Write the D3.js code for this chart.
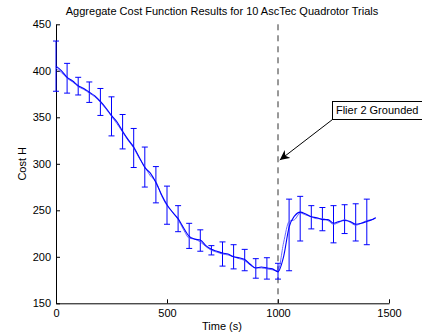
<!DOCTYPE html>
<html><head><meta charset="utf-8">
<script src="https://cdn.jsdelivr.net/npm/d3@7"></script>
<style>
body{margin:0;background:#fff;}
svg{display:block;font-family:"Liberation Sans",Arial,Helvetica,sans-serif;}
</style></head>
<body>
<script>
const title = "Aggregate Cost Function Results for 10 AscTec Quadrotor Trials";
const xLabel = "Time (s)";
const yLabel = "Cost H";
const xTicks = [0, 500, 1000, 1500];
const yTicks = [150, 200, 250, 300, 350, 400, 450];

const lineT = [0,25,50,75,100,125,150,175,200,225,250,275,300,325,350,375,400,425,450,475,500,525,550,575,600,625,650,675,700,725,750,775,800,825,850,875,900,925,950,975,1000,1025,1050,1075,1100,1125,1150,1175,1200,1225,1250,1275,1300,1325,1350,1375,1400,1425,1440];
const meanA = [405,400,393,389,384,381,377,373,367,360,352,345,335,326,318,307,296,290,280,267,256,248,241,231,222,219,218,212,208,206,204,203,200,199,197,192,188,189,188,187,184,200,232,244,248,246,243,242,240,240,236,238,239,238,235,236,238,240,242];
const meanB = [403,398,392,388,383,380,376,372,366,359,351,343,334,325,317,306,297,287,281,266,255,248,240,229,220,219,216,211,207,205,203,202,200,198,196,191,188,188,187,186,185,215,238,240,247,245,243,241,241,239,235,237,240,237,234,236,239,240,242];

const errT  = [0,50,100,150,200,250,300,350,400,450,500,550,600,650,700,750,800,850,900,950,1000,1050,1100,1150,1200,1250,1300,1350,1400];
const errLo = [378,376,374,366,352,330,316,296,275,258,235,227,209,206,202,190,187,185,177,176,176,185,217,230,228,215,225,217,213];
const errHi = [432,408,393,388,381,372,353,338,318,297,276,255,236,229,212,216,213,208,198,199,193,262,265,255,253,255,256,257,262];

const eventT = 1000;
const noteText = "Flier 2 Grounded";
const noteAt = [1243, 368];   // box top-left (data units)
const arrowTip = [1008, 304];

const W = 422, H = 335;
const svg = d3.select("body").append("svg").attr("width", W).attr("height", H);
const x = d3.scaleLinear().domain([0,1500]).range([56, 389]);
const y = d3.scaleLinear().domain([150,450]).range([303.3, 24.3]);

svg.append("text").attr("x", 222).attr("y", 15).attr("text-anchor","middle")
  .attr("font-size", 11).text(title);

const ax = svg.append("g").attr("transform", `translate(0,${y(150)})`)
  .call(d3.axisBottom(x).tickValues(xTicks).tickFormat(d3.format("d")).tickSizeInner(-4).tickSizeOuter(0).tickPadding(6));
const ay = svg.append("g").attr("transform", `translate(${x(0)},0)`)
  .call(d3.axisLeft(y).tickValues(yTicks).tickFormat(d3.format("d")).tickSizeInner(-4).tickSizeOuter(0).tickPadding(5));
[ax, ay].forEach(g => {
  g.selectAll("text").attr("font-size", 11).attr("fill","#000").attr("font-family","Liberation Sans, Arial, sans-serif");
  g.selectAll("line,path").attr("stroke","#000");
});

svg.append("text").attr("x", 222).attr("y", 330).attr("text-anchor","middle").attr("font-size",11).text(xLabel);
svg.append("text").attr("transform", `translate(26,${y(300)}) rotate(-90)`).attr("text-anchor","middle").attr("font-size",11).text(yLabel);

svg.append("line").attr("x1", x(eventT)).attr("x2", x(eventT)).attr("y1", y(450)).attr("y2", y(150))
  .attr("stroke","#333").attr("stroke-width",1).attr("stroke-dasharray","6,5");

const eg = svg.append("g").attr("stroke","#0000ff").attr("stroke-width",1).attr("fill","none");
errT.forEach((t,i) => {
  const cx = x(t), y1 = y(errLo[i]), y2 = y(errHi[i]);
  eg.append("line").attr("x1",cx).attr("x2",cx).attr("y1",y1).attr("y2",y2);
  eg.append("line").attr("x1",cx-3).attr("x2",cx+3).attr("y1",y1).attr("y2",y1);
  eg.append("line").attr("x1",cx-3).attr("x2",cx+3).attr("y1",y2).attr("y2",y2);
});

const lineGen = vals => d3.line().x((d,i)=>x(lineT[i])).y(d=>y(d)).curve(d3.curveMonotoneX)(vals);
svg.append("path").attr("d", lineGen(meanB)).attr("fill","none").attr("stroke","#5555ff").attr("stroke-width",0.9);
svg.append("path").attr("d", lineGen(meanA)).attr("fill","none").attr("stroke","#0000ff").attr("stroke-width",1.1);

const defs = svg.append("defs");
defs.append("marker").attr("id","ah").attr("viewBox","0 0 10 10").attr("refX",10).attr("refY",5)
  .attr("markerWidth",10).attr("markerHeight",10).attr("markerUnits","userSpaceOnUse").attr("orient","auto")
  .append("path").attr("d","M0,0 L10,5 L0,10 L3,5 Z").attr("fill","#000");
const bx = x(noteAt[0]), by = y(noteAt[1]);
const ng = svg.append("g");
const rect = ng.append("rect");
const nt = ng.append("text").attr("x", bx+4).attr("y", by+13).attr("font-size",11).text(noteText);
const bb = nt.node().getBBox();
rect.attr("x", Math.round(bx)+0.5).attr("y", Math.round(by)+0.5)
  .attr("width", Math.round(bb.width+8)).attr("height", 18).attr("fill","#fff").attr("stroke","#000").attr("stroke-width",1);
svg.append("line").attr("x1", Math.round(bx)+0.5).attr("y1", Math.round(by)+18.5).attr("x2", x(arrowTip[0])).attr("y2", y(arrowTip[1]))
  .attr("stroke","#000").attr("stroke-width",1).attr("marker-end","url(#ah)");
</script>
</body></html>
